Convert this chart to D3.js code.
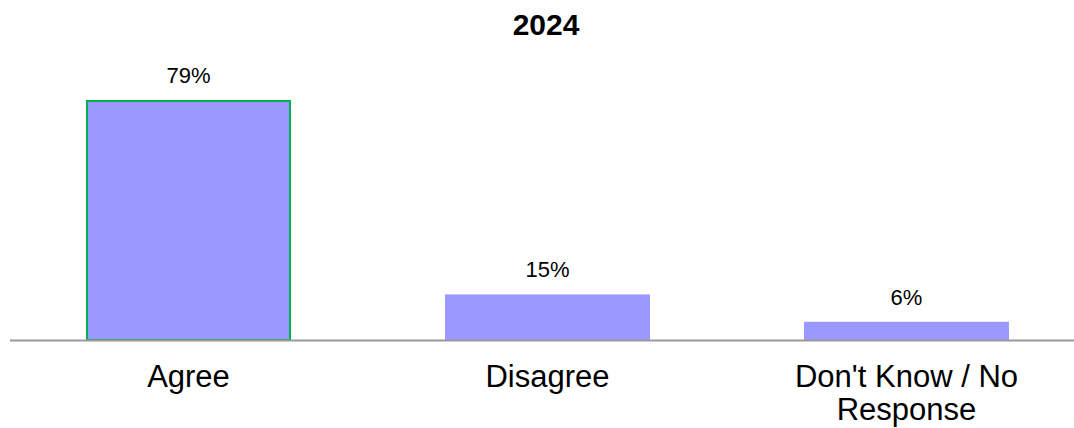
<!DOCTYPE html>
<html><head><meta charset="utf-8">
<script src="https://cdn.jsdelivr.net/npm/d3@7"></script>
<style>body{margin:0;background:#fff}svg{display:block;font-family:"Liberation Sans",Arial,sans-serif}</style>
</head><body><svg id="c" width="1074" height="428"></svg>
<script>
const categories = ["Agree", "Disagree", "Don't Know / No Response"];
const values = [79, 15, 6];
const valueLabels = ["79%", "15%", "6%"];
const categoryLines = [["Agree"], ["Disagree"], ["Don't Know / No", "Response"]];
const title = "2024";

const svg = d3.select("#c");
const x = d3.scaleBand().domain(categories).range([9, 1086]).paddingInner(0.429).paddingOuter(0.2145);
const y = d3.scaleLinear().domain([0, 79]).range([340, 100]);

svg.append("text").attr("x", 546).attr("y", 35).attr("text-anchor", "middle")
  .attr("font-weight", "bold").attr("font-size", 30).attr("fill", "#000").text(title);

svg.selectAll("rect.bar").data(categories).enter().append("rect")
  .attr("class", "bar")
  .attr("x", d => x(d)).attr("width", x.bandwidth())
  .attr("y", (d, i) => y(values[i])).attr("height", (d, i) => y(0) - y(values[i]))
  .attr("fill", "#9999FF");

// highlight border on first bar
svg.append("rect")
  .attr("x", x(categories[0]) + 1).attr("width", x.bandwidth() - 2)
  .attr("y", y(values[0]) + 1).attr("height", y(0) - y(values[0]) - 1)
  .attr("fill", "none").attr("stroke", "#00B050").attr("stroke-width", 2);

svg.append("line").attr("x1", 10).attr("x2", 1074).attr("y1", 340.5).attr("y2", 340.5)
  .attr("stroke", "#999").attr("stroke-width", 2);

svg.selectAll("text.val").data(categories).enter().append("text")
  .attr("class", "val")
  .attr("x", d => x(d) + x.bandwidth() / 2)
  .attr("y", (d, i) => y(values[i]) - 17)
  .attr("text-anchor", "middle").attr("font-size", 22).attr("fill", "#000")
  .text((d, i) => valueLabels[i]);

const cat = svg.selectAll("text.cat").data(categories).enter().append("text")
  .attr("class", "cat")
  .attr("x", d => x(d) + x.bandwidth() / 2)
  .attr("y", 387)
  .attr("text-anchor", "middle").attr("font-size", 31).attr("fill", "#000");
cat.each(function(d, i) {
  const t = d3.select(this);
  categoryLines[i].forEach((line, j) => {
    t.append("tspan").attr("x", x(d) + x.bandwidth() / 2).attr("dy", j === 0 ? 0 : 33).text(line);
  });
});
</script></body></html>
